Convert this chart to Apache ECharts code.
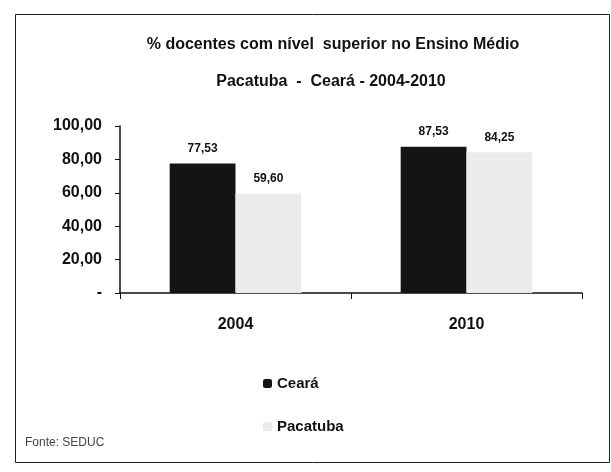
<!DOCTYPE html>
<html>
<head>
<meta charset="utf-8">
<script src="https://cdn.jsdelivr.net/npm/echarts@6/dist/echarts.min.js"></script>
<style>
html,body{margin:0;padding:0;background:#fff;}
#c{width:611px;height:472px;}
</style>
</head>
<body>
<div id="c"></div>
<script>
const titleLines = ['% docentes com nível  superior no Ensino Médio', 'Pacatuba  -  Ceará - 2004-2010'];
const categories = ['2004', '2010'];
const seriesNames = ['Ceará', 'Pacatuba'];
const cearaValues = [77.53, 87.53];
const pacatubaValues = [59.60, 84.25];
const yTickValues = [0, 20, 40, 60, 80, 100];
const yTickLabels = ['-', '20,00', '40,00', '60,00', '80,00', '100,00'];
const sourceNote = 'Fonte: SEDUC';

const FONT = 'Liberation Sans, Arial, sans-serif';
const fmt = v => v.toFixed(2).replace('.', ',');

const chart = echarts.init(document.getElementById('c'));
chart.setOption({
  backgroundColor: '#fff',
  animation: false,
  title: [
    {text: titleLines[0], left: 328, top: 32, textAlign: 'center',
     textStyle: {fontFamily: FONT, fontSize: 16, fontWeight: 'bold', color: '#111'}},
    {text: titleLines[1], left: 326, top: 69, textAlign: 'center',
     textStyle: {fontFamily: FONT, fontSize: 16, fontWeight: 'bold', color: '#111'}}
  ],
  legend: {
    orient: 'vertical', left: 258, top: 371, itemGap: 28,
    itemWidth: 9, itemHeight: 9,
    data: seriesNames,
    textStyle: {fontFamily: FONT, fontSize: 15, fontWeight: 'bold', color: '#111'}
  },
  grid: {left: 120, right: 29, top: 126, bottom: 179},
  xAxis: {
    type: 'category', data: categories,
    axisLine: {lineStyle: {color: '#111', width: 1.5}},
    axisTick: {show: true, length: 6, lineStyle: {color: '#111'}},
    axisLabel: {margin: 24, fontFamily: FONT, fontSize: 16, fontWeight: 'bold', color: '#111'}
  },
  yAxis: {
    type: 'value', min: 0, max: 100, interval: 20,
    axisLine: {show: true, lineStyle: {color: '#111', width: 1.5}},
    axisTick: {show: true, length: 5, lineStyle: {color: '#111'}},
    splitLine: {show: false},
    axisLabel: {
      margin: 18, fontFamily: FONT, fontSize: 16, fontWeight: 'bold', color: '#111',
      formatter: v => yTickLabels[yTickValues.indexOf(v)] ?? ''
    }
  },
  series: [
    {
      name: seriesNames[0], type: 'bar', data: cearaValues,
      barGap: '0%', barCategoryGap: '43%',
      itemStyle: {color: '#141414'},
      label: {show: true, position: 'top', distance: 9, formatter: p => fmt(p.value),
        fontFamily: FONT, fontSize: 12, fontWeight: 'bold', color: '#111'}
    },
    {
      name: seriesNames[1], type: 'bar', data: pacatubaValues,
      itemStyle: {
        color: '#ececec',
        decal: {symbol: 'rect', symbolSize: 0.35, color: 'rgba(90,90,90,0.45)',
                dashArrayX: [1, 3], dashArrayY: [1, 3], rotation: 0}
      },
      label: {show: true, position: 'top', distance: 9, formatter: p => fmt(p.value),
        fontFamily: FONT, fontSize: 12, fontWeight: 'bold', color: '#111'}
    }
  ],
  graphic: [
    {type: 'rect', left: 13, top: 12, shape: {width: 594, height: 448},
     style: {fill: 'none', stroke: '#222', lineWidth: 1}, silent: true},
    {type: 'text', left: 25, top: 437,
     style: {text: sourceNote, fontFamily: FONT, fontSize: 12, fill: '#444'}}
  ]
});
</script>
</body>
</html>
